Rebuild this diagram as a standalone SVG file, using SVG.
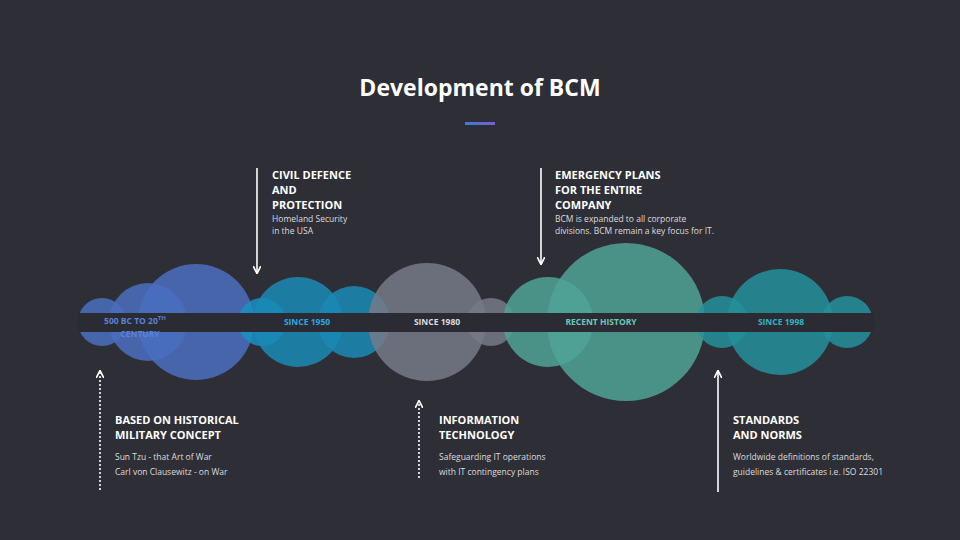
<svg xmlns="http://www.w3.org/2000/svg" width="960" height="540" viewBox="0 0 960 540">
<defs>
<linearGradient id="ul" x1="0" x2="1"><stop offset="0" stop-color="#3a7bd5"/><stop offset="1" stop-color="#7b5cd6"/></linearGradient>
<marker id="ah" viewBox="0 0 10 10" refX="8" refY="5" markerWidth="5" markerHeight="5" orient="auto"><path d="M0,0 L10,5 L0,10" fill="none" stroke="#fff" stroke-width="2"/></marker>
</defs>
<style>
text{font-family:"Segoe UI","Open Sans","Liberation Sans",sans-serif}
.h{fill:#fff;font-size:11px;font-weight:bold}
.s{fill:#ddd;font-size:8.5px}
.b{font-size:8.5px;font-weight:bold}
.ln{stroke:#fff;stroke-width:1.6;fill:none;marker-end:url(#ah)}
</style>
<rect width="960" height="540" fill="#2e2e36"/>
<text x="480" y="96" text-anchor="middle" fill="#fff" font-weight="bold" style="font-size:23px">Development of BCM</text>
<rect x="465" y="122" width="30" height="3" fill="url(#ul)"/>
<g id="circles" fill-opacity="0.85">
<circle cx="102" cy="322" r="24" fill="#4a6fc0"/>
<circle cx="148" cy="322" r="39" fill="#4a6fc0"/>
<circle cx="196" cy="322" r="58" fill="#4a6fc0"/>
<circle cx="262" cy="322" r="24" fill="#1a8fc0"/>
<circle cx="298" cy="322" r="45" fill="#1a8ab5"/>
<circle cx="354" cy="322" r="36" fill="#1a8ab5"/>
<circle cx="427" cy="322" r="59" fill="#767a88"/>
<circle cx="491" cy="322" r="24" fill="#767a88"/>
<circle cx="548" cy="322" r="45" fill="#4fa396"/>
<circle cx="626" cy="322" r="79" fill="#4fa396"/>
<circle cx="722" cy="322" r="26" fill="#23909c"/>
<circle cx="780" cy="322" r="53" fill="#23909c"/>
<circle cx="847" cy="322" r="26" fill="#23909c"/>
</g>
<rect x="78" y="313" width="796" height="19" fill="#2b2b33"/>
<g id="labels">
<text x="135" y="324" text-anchor="middle" class="b" fill="#5a82d8">500 BC TO 20<tspan font-size="6" dy="-4">TH</tspan></text>
<text x="140" y="337" text-anchor="middle" class="b" fill="#5a82d8">CENTURY</text>
<text x="307" y="325" text-anchor="middle" class="b" fill="#2aa8e0">SINCE 1950</text>
<text x="437" y="325" text-anchor="middle" class="b" fill="#ddd">SINCE 1980</text>
<text x="601" y="325" text-anchor="middle" class="b" fill="#6cc9b8">RECENT HISTORY</text>
<text x="781" y="325" text-anchor="middle" class="b" fill="#2fb5c2">SINCE 1998</text>
</g>
<g id="connectors">
<line x1="257" y1="168" x2="257" y2="272" class="ln"/>
<line x1="541" y1="168" x2="541" y2="263" class="ln"/>
<line x1="100" y1="490" x2="100" y2="372" class="ln" stroke-dasharray="2,2"/>
<line x1="419" y1="478" x2="419" y2="402" class="ln" stroke-dasharray="2,2"/>
<line x1="718" y1="492" x2="718" y2="372" class="ln"/>
</g>
<g id="n1"><text x="272" y="179" class="h">CIVIL DEFENCE</text><text x="272" y="194" class="h">AND</text><text x="272" y="209" class="h">PROTECTION</text>
<text x="272" y="222" class="s">Homeland Security</text><text x="272" y="234" class="s">in the USA</text></g>
<g id="n2"><text x="555" y="179" class="h">EMERGENCY PLANS</text><text x="555" y="194" class="h">FOR THE ENTIRE</text><text x="555" y="209" class="h">COMPANY</text>
<text x="555" y="222" class="s">BCM is expanded to all corporate</text><text x="555" y="234" class="s">divisions. BCM remain a key focus for IT.</text></g>
<g id="n3"><text x="115" y="424" class="h">BASED ON HISTORICAL</text><text x="115" y="439" class="h">MILITARY CONCEPT</text>
<text x="115" y="460" class="s">Sun Tzu - that Art of War</text><text x="115" y="475" class="s">Carl von Clausewitz - on War</text></g>
<g id="n4"><text x="439" y="424" class="h">INFORMATION</text><text x="439" y="439" class="h">TECHNOLOGY</text>
<text x="439" y="460" class="s">Safeguarding IT operations</text><text x="439" y="475" class="s">with IT contingency plans</text></g>
<g id="n5"><text x="733" y="424" class="h">STANDARDS</text><text x="733" y="439" class="h">AND NORMS</text>
<text x="733" y="460" class="s">Worldwide definitions of standards,</text><text x="733" y="475" class="s">guidelines &amp; certificates i.e. ISO 22301</text></g>
</svg>
